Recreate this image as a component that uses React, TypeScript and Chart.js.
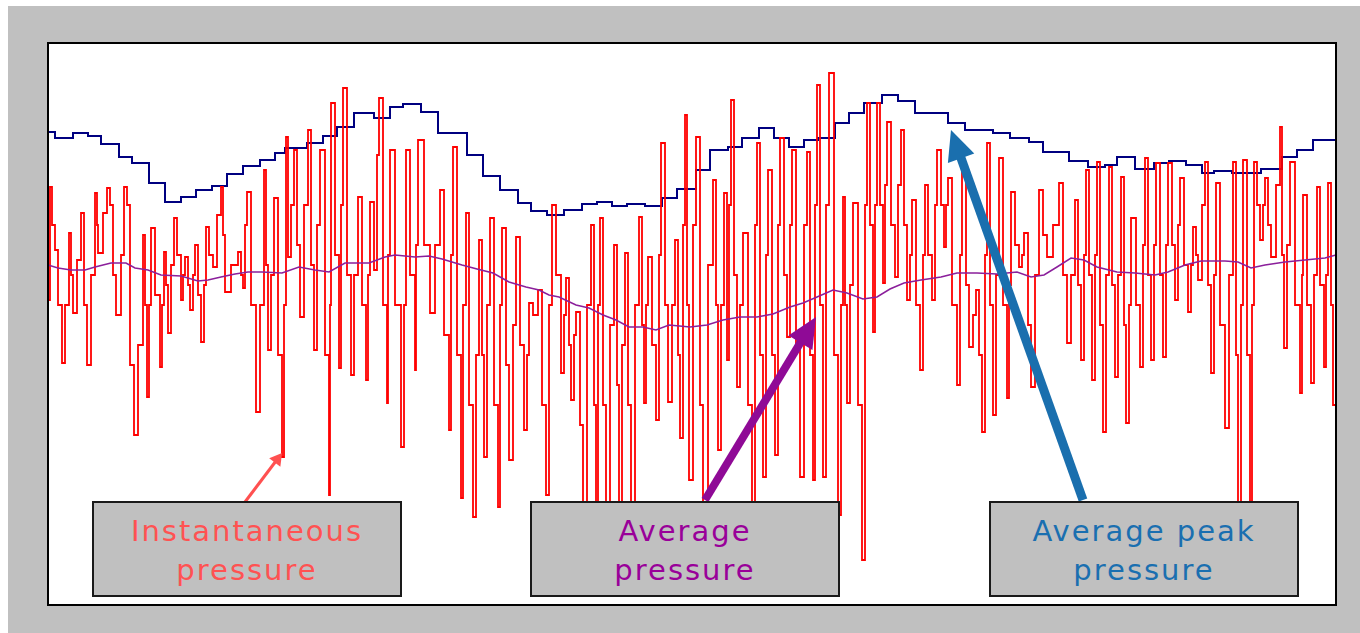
import React, { useEffect, useRef } from 'react';
import { Chart, registerables } from 'chart.js';

Chart.register(...registerables);

// time (samples) vs pressure (arbitrary units)
const instantaneous: [number, number][] = [
  [0,305],[2,418],[4,380],[7,355],[10,300],[14,242],[17,300],[21,372],[23,330],[25,292],[29,345],[33,392],[36,300],[39,240],[43,330],[47,412],[49,380],[50,352],[55,392],[59,417],[62,400],[65,330],[68,290],[73,350],[76,418],[79,400],[82,240],[86,170],[90,260],[95,370],[97,300],[99,208],[101,300],[103,377],[107,310],[112,238],[114,300],[116,353],[118,320],[120,272],[123,340],[126,387],[129,350],[133,305],[135,330],[137,348],[140,320],[142,295],[145,330],[147,360],[150,310],[153,263],[156,320],[158,378],[161,350],[165,338],[169,390],[173,418],[175,370],[177,313],[183,340],[190,353],[193,330],[195,317],[197,380],[199,413],[203,300],[208,193],[212,300],[216,435],[218,340],[220,255],[223,330],[226,407],[230,250],[234,148],[236,300],[238,468],[240,348],[243,400],[246,455],[249,360],[252,288],[256,400],[260,475],[263,340],[266,255],[269,380],[272,455],[277,250],[281,110],[282,300],[283,502],[287,350],[291,237],[293,400],[295,517],[299,330],[303,230],[306,330],[310,408],[314,300],[318,225],[320,330],[322,403],[326,335],[329,450],[331,507],[335,300],[339,202],[340,350],[342,455],[347,300],[353,158],[356,300],[358,455],[362,330],[367,235],[368,360],[370,465],[376,360],[382,292],[387,360],[392,415],[396,270],[401,175],[403,350],[405,458],[409,250],[413,107],[415,300],[418,392],[421,200],[425,88],[428,250],[431,365],[434,250],[436,148],[439,300],[442,387],[446,200],[450,98],[452,300],[454,377],[458,240],[461,145],[465,280],[468,368],[472,260],[476,175],[479,250],[481,302],[485,290],[490,315],[494,200],[498,110],[501,300],[504,400],[508,330],[513,232],[516,290],[518,327],[521,260],[523,205],[526,270],[528,293],[532,180],[535,85],[539,300],[543,380],[546,200],[548,85],[550,300],[552,387],[555,200],[558,85],[562,280],[566,360],[569,220],[571,85],[574,260],[577,352],[580,200],[583,85],[587,300],[591,388],[594,280],[596,202],[598,300],[600,348],[604,260],[608,185],[611,350],[613,462],[617,300],[620,203],[624,300],[627,365],[630,250],[632,167],[635,380],[637,490],[639,300],[641,125],[645,380],[648,468],[652,200],[655,90],[660,340],[665,425],[668,300],[670,155],[673,300],[676,412],[679,245],[681,400],[683,505],[686,330],[689,218],[692,300],[695,372],[700,200],[704,90],[707,380],[709,462],[712,250],[715,128],[718,350],[720,435],[724,250],[727,150],[730,380],[732,467],[736,330],[739,268],[742,380],[744,455],[748,260],[752,128],[756,380],[759,453],[762,250],[765,125],[767,400],[769,520],[772,300],[775,128],[778,400],[781,532],[786,250],[790,90],[793,300],[795,408],[797,300],[799,202],[802,320],[805,402],[810,200],[814,45],[817,400],[819,502],[822,380],[825,273],[827,400],[829,502],[832,400],[835,322],[837,420],[839,483],[843,380],[847,328],[850,420],[853,475],[856,380],[859,305],[862,350],[864,405],[868,300],[872,235],[875,350],[877,420],[880,350],[884,305],[887,400],[889,455],[893,400],[896,358],[898,400],[900,427],[904,300],[909,220],[912,350],[914,438],[918,320],[921,258],[925,290],[928,315],[931,250],[934,173],[937,350],[939,462],[942,300],[945,190],[948,330],[951,447],[955,300],[959,207],[961,320],[963,413],[967,360],[971,338],[974,350],[976,372],[980,280],[983,218],[987,330],[991,415],[995,370],[999,348],[1005,380],[1011,422],[1015,330],[1019,262],[1023,330],[1027,405],[1030,320],[1033,245],[1036,350],[1038,435],[1041,330],[1044,225],[1047,350],[1049,443],[1052,280],[1055,173],[1058,330],[1061,438],[1064,320],[1067,228],[1070,330],[1073,428],[1076,280],[1078,182],[1081,300],[1083,387],[1088,300],[1092,238],[1095,360],[1097,447],[1100,330],[1103,245],[1106,360],[1108,442],[1112,330],[1115,248],[1118,360],[1120,442],[1124,360],[1127,305],[1130,380],[1132,427],[1136,340],[1140,293],[1143,340],[1145,378],[1148,350],[1150,325],[1154,400],[1157,443],[1160,320],[1163,232],[1166,330],[1168,422],[1172,280],[1177,177],[1181,330],[1185,443],[1188,250],[1190,100],[1193,300],[1195,445],[1199,250],[1202,100],[1204,300],[1206,443],[1209,400],[1212,365],[1215,400],[1217,427],[1220,380],[1223,348],[1228,420],[1232,478],[1234,350],[1236,257],[1239,360],[1242,443],[1247,300],[1252,212],[1254,330],[1255,410],[1259,300],[1263,222],[1266,330],[1269,418],[1272,320],[1276,238],[1278,330],[1280,422],[1283,300],[1285,200],[1288,280]
];

const averagePressure: [number, number][] = [
  [0,340],[10,337],[23,335],[37,335],[47,338],[63,342],[78,342],[87,337],[100,335],[113,330],[133,329],[150,324],[160,325],[173,328],[187,331],[200,333],[214,333],[234,332],[251,338],[267,335],[281,333],[297,342],[321,342],[337,348],[347,350],[367,348],[381,349],[394,346],[414,340],[429,336],[445,332],[461,323],[478,318],[491,315],[501,310],[511,308],[528,300],[541,297],[555,290],[568,285],[581,278],[595,278],[608,275],[621,280],[642,278],[659,280],[675,285],[692,288],[709,288],[725,291],[742,298],[755,302],[769,308],[785,315],[799,312],[815,306],[829,308],[842,316],[856,322],[873,325],[893,328],[909,332],[929,332],[949,331],[969,333],[983,328],[996,330],[1009,338],[1023,347],[1036,345],[1049,338],[1069,333],[1087,332],[1107,330],[1120,333],[1137,340],[1153,344],[1177,344],[1190,343],[1203,337],[1217,340],[1237,343],[1257,345],[1277,347],[1288,350]
];

const averagePeak: [number, number][] = [
  [0,473],[7,467],[25,472],[40,469],[53,461],[71,448],[84,442],[101,422],[117,403],[133,408],[148,415],[164,419],[179,431],[195,439],[212,445],[227,452],[237,457],[259,462],[275,469],[289,478],[306,492],[326,487],[342,498],[355,501],[373,493],[390,472],[419,450],[435,429],[452,415],[470,402],[483,394],[499,390],[516,395],[534,401],[549,403],[564,399],[579,401],[597,399],[614,407],[629,416],[648,435],[662,455],[680,458],[694,467],[711,477],[726,467],[741,458],[756,465],[770,467],[787,482],[801,492],[816,502],[834,510],[850,504],[867,492],[900,482],[917,475],[945,472],[962,467],[981,463],[995,453],[1021,444],[1040,438],[1057,440],[1069,448],[1087,436],[1106,442],[1121,444],[1138,440],[1154,432],[1166,434],[1184,432],[1213,436],[1234,448],[1249,455],[1265,465],[1288,465]
];

const labelTexts = [
  ['Instantaneous', 'pressure'],
  ['Average', 'pressure'],
  ['Average peak', 'pressure'],
];
const labelColors = ['#ff5252', '#990099', '#1a6fb0'];
const labelLeft = [84, 522, 981];

// annotation arrows: [tailT, tailP, tipT, tipP]
const arrowPoints: [number, number, number, number][] = [
  [197, 103, 234, 152],
  [657, 105, 768, 288],
  [1035, 105, 903, 475],
];
const arrowColors = ['#ff5050', '#8f0a96', '#1a6fae'];
const arrowWidths = [3, 8, 9];
const arrowHeads = [[12, 7], [30, 14], [30, 14]];

const toXY = (arr: [number, number][]) => arr.map(([t, p]) => ({ x: t, y: p }));

function drawArrow(ctx: CanvasRenderingContext2D, x1: number, y1: number, x2: number, y2: number, w: number, hl: number, hw: number, color: string) {
  const dx = x2 - x1, dy = y2 - y1;
  const len = Math.hypot(dx, dy);
  const ux = dx / len, uy = dy / len;
  const bx = x2 - ux * hl, by = y2 - uy * hl;
  ctx.save();
  ctx.strokeStyle = color;
  ctx.fillStyle = color;
  ctx.lineWidth = w;
  ctx.lineCap = 'butt';
  ctx.beginPath();
  ctx.moveTo(x1, y1);
  ctx.lineTo(bx + ux * 2, by + uy * 2);
  ctx.stroke();
  ctx.beginPath();
  ctx.moveTo(x2, y2);
  ctx.lineTo(bx - uy * hw, by + ux * hw);
  ctx.lineTo(bx + uy * hw, by - ux * hw);
  ctx.closePath();
  ctx.fill();
  ctx.restore();
}

export default function App() {
  const ref = useRef<HTMLCanvasElement>(null);
  useEffect(() => {
    if (!ref.current) return;
    const frame = {
      id: 'frame',
      beforeDraw(chart: any) {
        const { ctx, chartArea: a } = chart;
        ctx.save();
        ctx.fillStyle = '#ffffff';
        ctx.fillRect(a.left, a.top, a.right - a.left, a.bottom - a.top);
        ctx.restore();
      },
      afterDraw(chart: any) {
        const { ctx, chartArea: a, scales } = chart;
        ctx.save();
        ctx.strokeStyle = '#000000';
        ctx.lineWidth = 2;
        ctx.strokeRect(a.left, a.top, a.right - a.left, a.bottom - a.top);
        ctx.restore();
        arrowPoints.forEach(([t1, p1, t2, p2], i) => {
          drawArrow(
            ctx,
            scales.x.getPixelForValue(t1), scales.y.getPixelForValue(p1),
            scales.x.getPixelForValue(t2), scales.y.getPixelForValue(p2),
            arrowWidths[i], arrowHeads[i][0], arrowHeads[i][1], arrowColors[i]
          );
        });
      },
    };
    const chart = new Chart(ref.current, {
      type: 'line',
      data: {
        datasets: [
          {
            label: 'Average pressure',
            data: toXY(averagePressure),
            borderColor: '#8b1f9b',
            borderWidth: 1.5,
            pointRadius: 0,
            tension: 0,
            order: 0,
          },
          {
            label: 'Instantaneous pressure',
            data: toXY(instantaneous),
            borderColor: '#ff0000',
            borderWidth: 1.8,
            pointRadius: 0,
            stepped: true,
            order: 1,
          },
          {
            label: 'Average peak pressure',
            data: toXY(averagePeak),
            borderColor: '#000080',
            borderWidth: 2,
            pointRadius: 0,
            stepped: true,
            order: 2,
          },
        ],
      },
      options: {
        animation: false,
        responsive: false,
        maintainAspectRatio: false,
        layout: { padding: { left: 40, top: 37, right: 24, bottom: 28 } },
        scales: {
          x: { type: 'linear', min: 0, max: 1288, display: false },
          y: { type: 'linear', min: 0, max: 562, display: false },
        },
        plugins: { legend: { display: false }, tooltip: { enabled: false } },
        events: [],
      },
      plugins: [frame],
    });
    return () => chart.destroy();
  }, []);

  return (
    <div style={{ position: 'fixed', left: 8, top: 6, width: 1352, height: 627, background: '#c0c0c0', overflow: 'hidden' }}>
      <canvas ref={ref} width={1352} height={627} style={{ position: 'absolute', left: 0, top: 0, width: 1352, height: 627 }} />
      {labelTexts.map((lines, i) => (
        <div
          key={i}
          style={{
            position: 'absolute',
            left: labelLeft[i],
            top: 495,
            width: 310,
            height: 96,
            boxSizing: 'border-box',
            border: '2px solid #1a1a1a',
            background: '#c0c0c0',
            color: labelColors[i],
            fontFamily: '"DejaVu Sans", Verdana, sans-serif',
            fontSize: 29,
            letterSpacing: 2,
            lineHeight: '39px',
            textAlign: 'center',
            paddingTop: 9,
          }}
        >
          {lines.map((l, j) => (
            <div key={j}>{l}</div>
          ))}
        </div>
      ))}
    </div>
  );
}
